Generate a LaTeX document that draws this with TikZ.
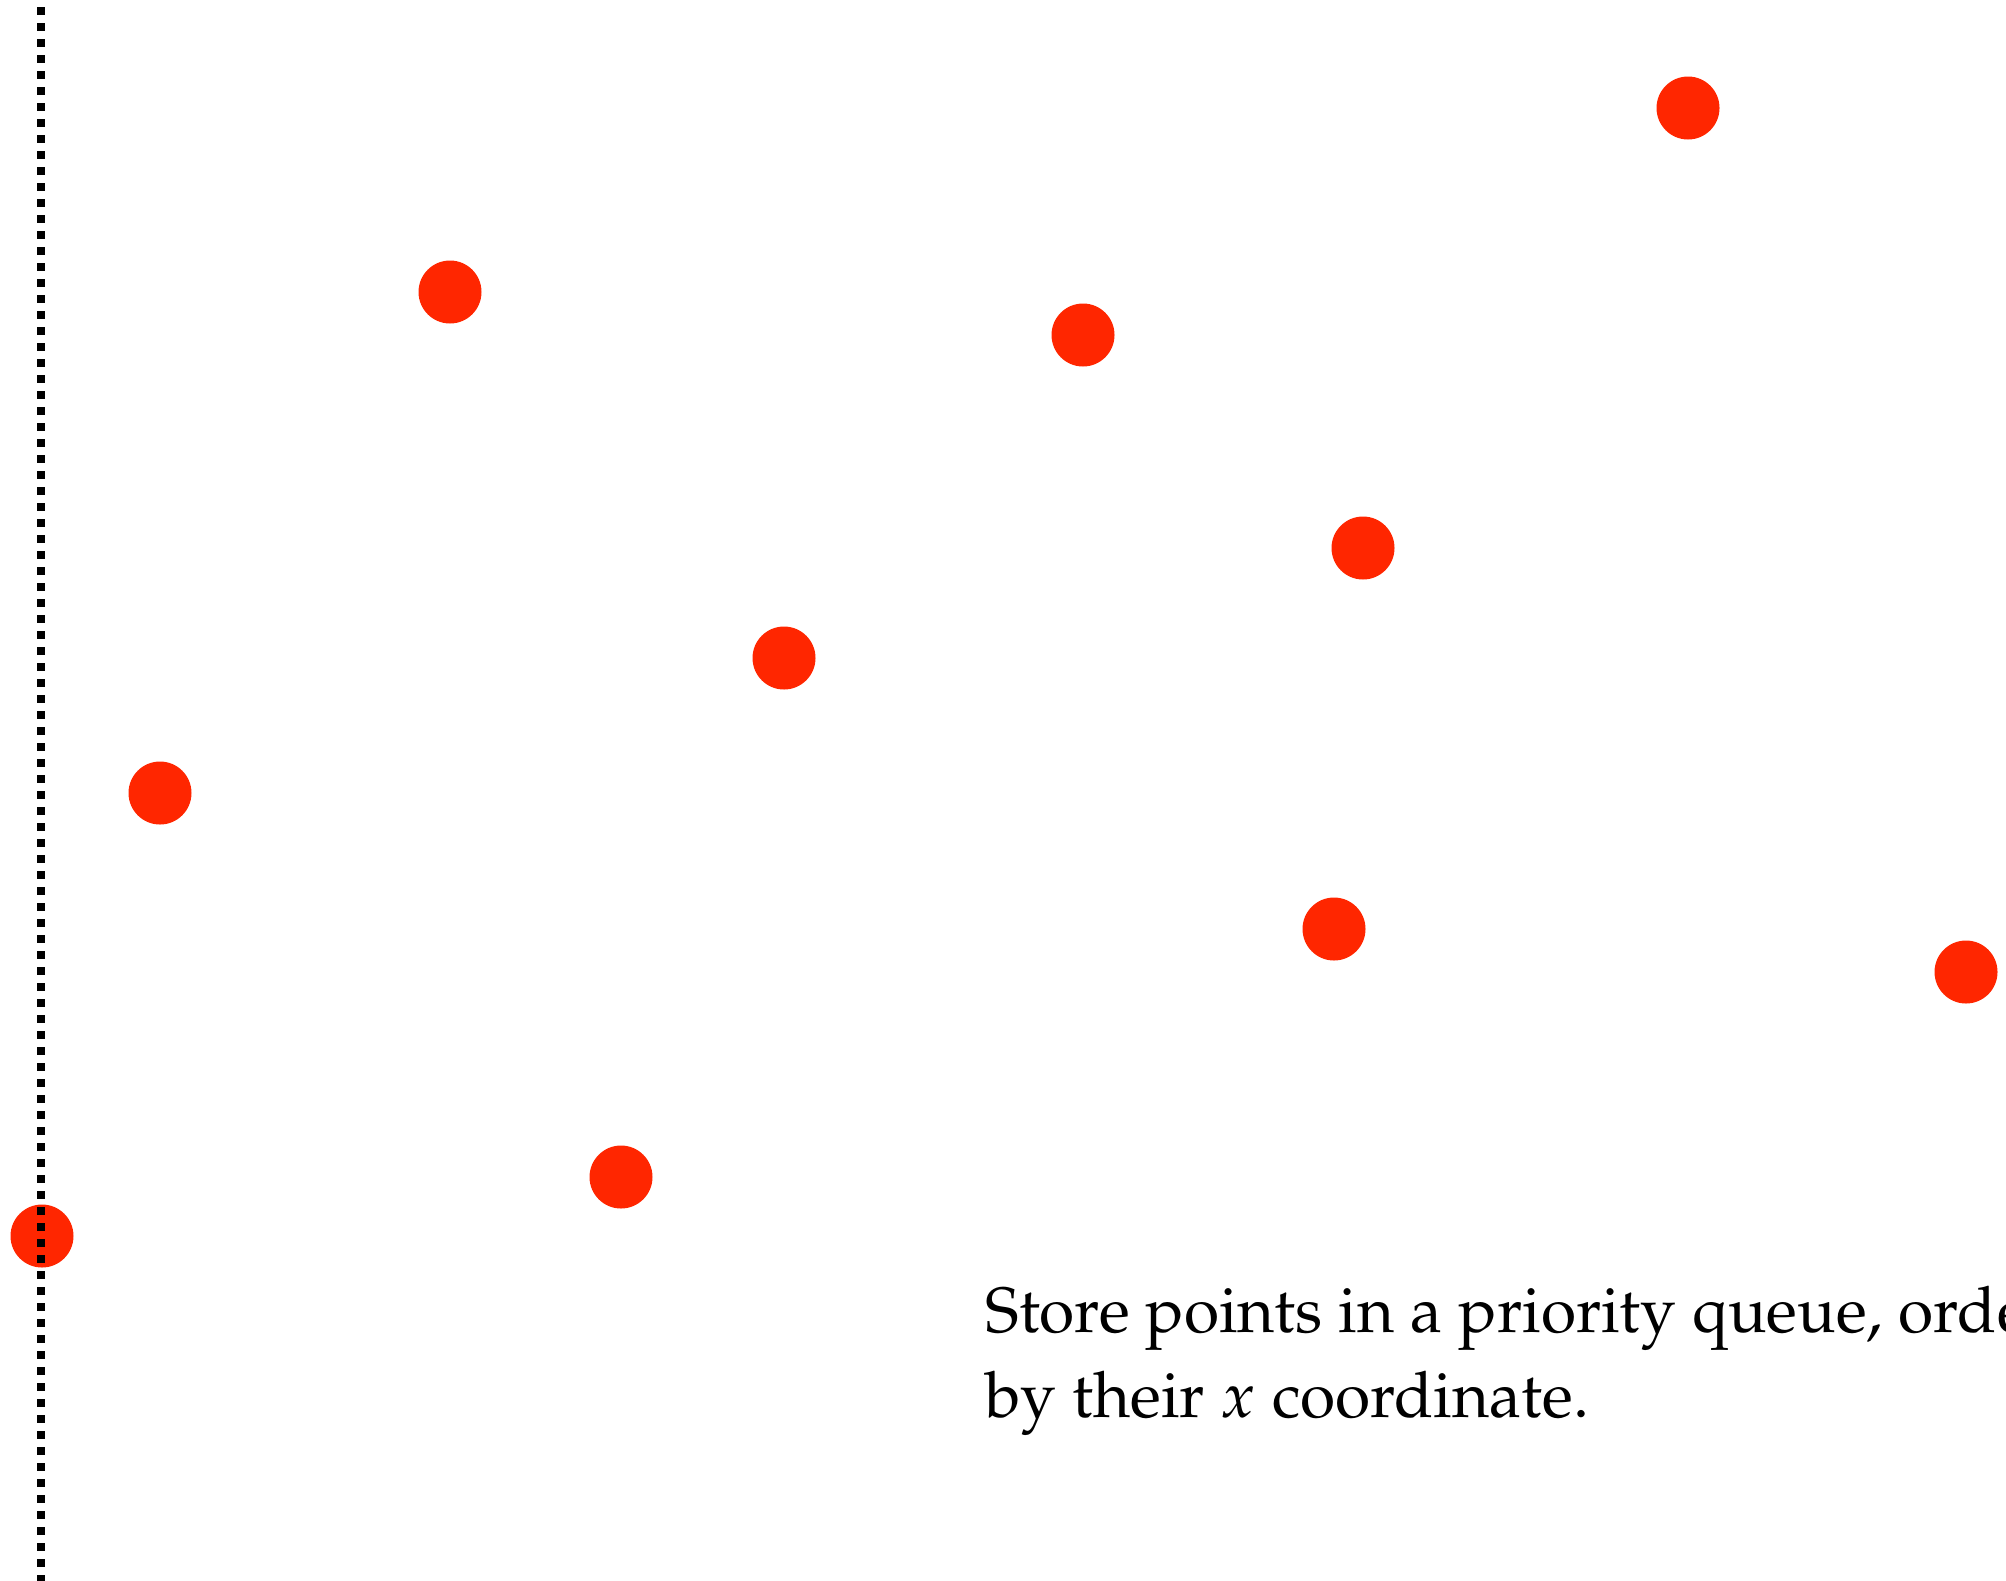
\documentclass[tikz,border=0pt]{standalone}
\usepackage[T1]{fontenc}
\usepackage{mathpazo}
\usepackage{tikz}
\definecolor{ptred}{RGB}{255,38,0}

\begin{document}
\begin{tikzpicture}[x=0.5pt, y=-0.5pt,
	   pt/.style={circle, fill=ptred, inner sep=0pt, minimum size=31.5pt},
	   sweep/.style={line width=4pt, dash pattern=on 4pt off 4pt},
	   note/.style={anchor=base west, align=left, inner sep=0pt, font=\fontsize{32}{42.5}\selectfont}]
	  \useasboundingbox (0,0) rectangle (2006,1580);
	  \node[pt] (p1) at (450,292) {};
	  \node[pt] (p2) at (1688,108) {};
	  \node[pt] (p3) at (1083,335) {};
	  \node[pt] (p4) at (1363,548) {};
	  \node[pt] (p5) at (784,658) {};
	  \node[pt] (p6) at (160,793) {};
	  \node[pt] (p7) at (1334,929) {};
	  \node[pt] (p8) at (1966,972) {};
	  \node[pt] (p9) at (621,1177) {};
	  \node[pt] (p0) at (42,1236) {};
	  \coordinate (ltop) at (41,7);
	  \coordinate (lbot) at (41,1590);
	  \draw[sweep] (ltop) -- (lbot);
	  % base anchor sits on the last line
	  \node[note] (txt) at (985,1417) {Store points in a priority queue, ordered\\ by their $x$ coordinate.};
	\end{tikzpicture}
\end{document}
